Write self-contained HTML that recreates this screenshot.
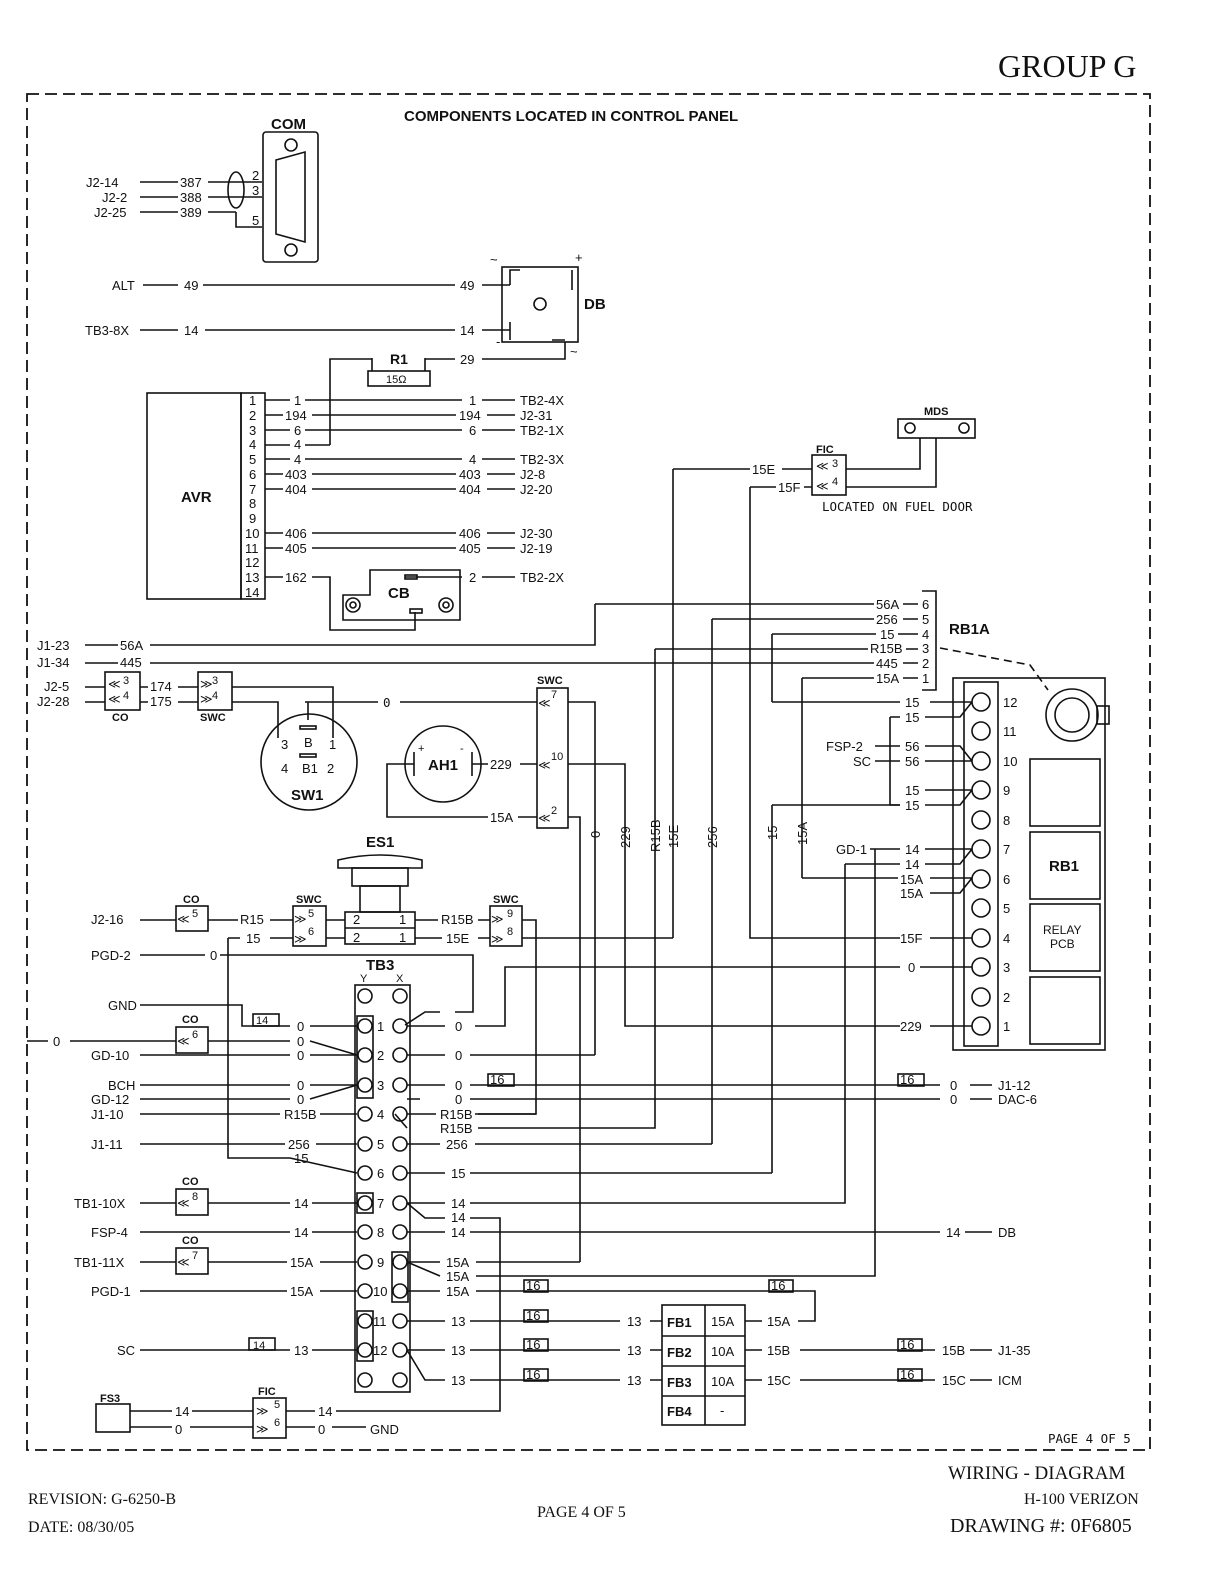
<!DOCTYPE html>
<html><head><meta charset="utf-8"><style>
html,body{margin:0;padding:0;background:#fff;overflow:hidden;width:1224px;height:1584px}
svg{display:block}
text{font-family:"Liberation Sans",sans-serif;font-size:13px;fill:#111}
.m{font-family:"DejaVu Sans Mono","Liberation Mono",monospace;font-size:12.5px}
.b{font-weight:bold}
.s{font-family:"Liberation Serif",serif}
line,path,rect,circle,ellipse,polyline{stroke:#111;stroke-width:1.6;fill:none}
</style></head><body>
<svg width="1224" height="1584" viewBox="0 0 1224 1584" xmlns="http://www.w3.org/2000/svg">
<text x="998" y="77" class="s" style="font-size:32px">GROUP G</text>
<rect x="27" y="94" width="1123" height="1356" style="stroke-dasharray:12,6;stroke-width:1.8"/>
<text x="404" y="121" class="b" style="font-size:15px">COMPONENTS LOCATED IN CONTROL PANEL</text>

<!-- COM -->
<text x="271" y="129" class="b" style="font-size:15px">COM</text>
<rect x="263" y="132" width="55" height="130" rx="3"/>
<path d="M276 160 L305 152 L305 242 L276 234 Z"/>
<circle cx="291" cy="145" r="6"/><circle cx="291" cy="250" r="6"/>
<g class="m"><text x="86" y="187">J2-14</text><text x="102" y="202">J2-2</text><text x="94" y="217">J2-25</text>
<text x="180" y="187">387</text><text x="180" y="202">388</text><text x="180" y="217">389</text>
<text x="252" y="180">2</text><text x="252" y="195">3</text><text x="252" y="225">5</text></g>
<line x1="140" y1="182" x2="178" y2="182"/><line x1="208" y1="182" x2="262" y2="182"/>
<line x1="140" y1="197" x2="178" y2="197"/><line x1="208" y1="197" x2="262" y2="197"/>
<line x1="140" y1="212" x2="178" y2="212"/><line x1="208" y1="212" x2="236" y2="212"/>
<path d="M236 212 V227 H262"/><ellipse cx="236" cy="190" rx="8" ry="18"/>

<!-- ALT/DB -->
<g class="m"><text x="112" y="290">ALT</text><text x="184" y="290">49</text><text x="460" y="290">49</text>
<text x="85" y="335">TB3-8X</text><text x="184" y="335">14</text><text x="460" y="335">14</text><text x="460" y="364">29</text></g>
<line x1="143" y1="285" x2="178" y2="285"/><line x1="203" y1="285" x2="455" y2="285"/><line x1="482" y1="285" x2="510" y2="285"/>
<line x1="140" y1="330" x2="178" y2="330"/><line x1="205" y1="330" x2="455" y2="330"/><line x1="482" y1="330" x2="510" y2="330"/>
<rect x="502" y="267" width="76" height="75"/><circle cx="540" cy="304" r="6"/>
<path d="M510 285 V270 H520 M572 270 V290 M510 322 V340 M552 340 H565"/>
<text x="584" y="309" class="b" style="font-size:15px">DB</text>
<text x="490" y="264">~</text><text x="575" y="262">+</text><text x="496" y="346">-</text><text x="570" y="356">~</text>
<!-- R1 -->
<text x="390" y="364" class="b" style="font-size:14px">R1</text>
<rect x="368" y="371" width="62" height="15"/><text x="386" y="383" style="font-size:11px">15Ω</text>
<path d="M372 371 V358 M425 371 V358 M330 445 V359 H372 M425 359 H455 M482 359 H565 V342"/>
<!-- AVR -->
<rect x="147" y="393" width="94" height="206"/><text x="181" y="502" class="b" style="font-size:15px">AVR</text>
<rect x="241" y="393" width="24" height="206"/>
<g class="m">
<text x="249" y="405">1</text><text x="249" y="420">2</text><text x="249" y="435">3</text><text x="249" y="449">4</text><text x="249" y="464">5</text><text x="249" y="479">6</text><text x="249" y="494">7</text><text x="249" y="508">8</text><text x="249" y="523">9</text><text x="245" y="538">10</text><text x="245" y="553">11</text><text x="245" y="567">12</text><text x="245" y="582">13</text><text x="245" y="597">14</text>
<text x="294" y="405">1</text><text x="285" y="420">194</text><text x="294" y="435">6</text><text x="294" y="449">4</text><text x="294" y="464">4</text><text x="285" y="479">403</text><text x="285" y="494">404</text><text x="285" y="538">406</text><text x="285" y="553">405</text><text x="285" y="582">162</text>
<text x="469" y="405">1</text><text x="459" y="420">194</text><text x="469" y="435">6</text><text x="469" y="464">4</text><text x="459" y="479">403</text><text x="459" y="494">404</text><text x="459" y="538">406</text><text x="459" y="553">405</text><text x="469" y="582">2</text>
<text x="520" y="405">TB2-4X</text><text x="520" y="420">J2-31</text><text x="520" y="435">TB2-1X</text><text x="520" y="464">TB2-3X</text><text x="520" y="479">J2-8</text><text x="520" y="494">J2-20</text><text x="520" y="538">J2-30</text><text x="520" y="553">J2-19</text><text x="520" y="582">TB2-2X</text>
</g>
<g>
<line x1="265" y1="400" x2="290" y2="400"/><line x1="305" y1="400" x2="462" y2="400"/><line x1="482" y1="400" x2="515" y2="400"/>
<line x1="265" y1="415" x2="283" y2="415"/><line x1="312" y1="415" x2="456" y2="415"/><line x1="487" y1="415" x2="515" y2="415"/>
<line x1="265" y1="430" x2="290" y2="430"/><line x1="305" y1="430" x2="462" y2="430"/><line x1="482" y1="430" x2="515" y2="430"/>
<line x1="265" y1="445" x2="290" y2="445"/><line x1="305" y1="445" x2="330" y2="445"/>
<line x1="265" y1="459" x2="290" y2="459"/><line x1="305" y1="459" x2="462" y2="459"/><line x1="482" y1="459" x2="515" y2="459"/>
<line x1="265" y1="474" x2="283" y2="474"/><line x1="312" y1="474" x2="456" y2="474"/><line x1="487" y1="474" x2="515" y2="474"/>
<line x1="265" y1="489" x2="283" y2="489"/><line x1="312" y1="489" x2="456" y2="489"/><line x1="487" y1="489" x2="515" y2="489"/>
<line x1="265" y1="533" x2="283" y2="533"/><line x1="312" y1="533" x2="456" y2="533"/><line x1="487" y1="533" x2="515" y2="533"/>
<line x1="265" y1="548" x2="283" y2="548"/><line x1="312" y1="548" x2="456" y2="548"/><line x1="487" y1="548" x2="515" y2="548"/>
<line x1="265" y1="577" x2="283" y2="577"/><path d="M312 577 H330 V630 H415 V612"/>
<path d="M405 577 H462 M482 577 H515"/>
</g>
<!-- CB -->
<path d="M343 595 H370 V570 H460 V620 H343 Z"/>
<circle cx="353" cy="605" r="7"/><circle cx="446" cy="605" r="7"/><circle cx="353" cy="605" r="3"/><circle cx="446" cy="605" r="3"/>
<rect x="405" y="575" width="12" height="4"/><rect x="410" y="609" width="12" height="4"/>
<text x="388" y="598" class="b" style="font-size:15px">CB</text>

<!-- FIC / MDS -->
<text x="816" y="453" class="b" style="font-size:11px">FIC</text>
<rect x="812" y="455" width="34" height="40"/>
<text x="832" y="467" style="font-size:11px">3</text><text x="832" y="485" style="font-size:11px">4</text>
<text x="816" y="470" style="font-size:12px">≪</text><text x="816" y="490" style="font-size:12px">≪</text>
<text x="924" y="415" class="b" style="font-size:11px">MDS</text>
<rect x="898" y="419" width="77" height="19"/><circle cx="910" cy="428" r="5"/><circle cx="964" cy="428" r="5"/>
<path d="M846 469 H920 V438 M846 487 H936 V438"/>
<text x="822" y="511" class="m">LOCATED ON FUEL DOOR</text>
<g class="m"><text x="752" y="474">15E</text><text x="778" y="492">15F</text></g>
<path d="M673 469 H750 M782 469 H812 M750 487 H776 M804 487 H812"/>
<path d="M673 469 V938 M750 487 V938 H900"/>

<!-- RB1A -->
<text x="949" y="634" class="b" style="font-size:15px">RB1A</text>
<path d="M922 591 H936 V690 H922"/>
<g class="m"><text x="876" y="609">56A</text><text x="922" y="609">6</text>
<text x="876" y="624">256</text><text x="922" y="624">5</text>
<text x="880" y="639">15</text><text x="922" y="639">4</text>
<text x="870" y="653">R15B</text><text x="922" y="653">3</text>
<text x="876" y="668">445</text><text x="922" y="668">2</text>
<text x="876" y="683">15A</text><text x="922" y="683">1</text>
<text x="37" y="650">J1-23</text><text x="120" y="650">56A</text>
<text x="37" y="667">J1-34</text><text x="120" y="667">445</text></g>
<path d="M595 604 H874 M595 604 V645 H150 M85 645 H118 M85 663 H118 M150 663 H874 M712 619 H874 M772 634 H876 M655 649 H868 M802 678 H874"/>
<path d="M903 604 H918 M903 619 H918 M898 634 H918 M906 649 H918 M903 663 H918 M903 678 H918"/>
<path d="M940 648 L1030 665 L1048 690" style="stroke-dasharray:8,5"/>

<!-- Right terminal block -->
<rect x="953" y="678" width="152" height="372"/>
<rect x="964" y="682" width="34" height="364"/>
<g>
<circle cx="981" cy="702" r="9"/><circle cx="981" cy="731" r="9"/><circle cx="981" cy="761" r="9"/><circle cx="981" cy="790" r="9"/><circle cx="981" cy="820" r="9"/><circle cx="981" cy="849" r="9"/><circle cx="981" cy="879" r="9"/><circle cx="981" cy="908" r="9"/><circle cx="981" cy="938" r="9"/><circle cx="981" cy="967" r="9"/><circle cx="981" cy="997" r="9"/><circle cx="981" cy="1026" r="9"/>
</g>
<g class="m"><text x="1003" y="707">12</text><text x="1003" y="736">11</text><text x="1003" y="766">10</text><text x="1003" y="795">9</text><text x="1003" y="825">8</text><text x="1003" y="854">7</text><text x="1003" y="884">6</text><text x="1003" y="913">5</text><text x="1003" y="943">4</text><text x="1003" y="972">3</text><text x="1003" y="1002">2</text><text x="1003" y="1031">1</text></g>
<rect x="1030" y="759" width="70" height="67"/><rect x="1030" y="832" width="70" height="67"/><rect x="1030" y="904" width="70" height="67"/><rect x="1030" y="977" width="70" height="67"/>
<text x="1049" y="871" class="b" style="font-size:15px">RB1</text>
<text x="1043" y="934" style="font-size:12px">RELAY</text><text x="1050" y="948" style="font-size:12px">PCB</text>
<circle cx="1072" cy="715" r="26"/><circle cx="1072" cy="715" r="17"/><rect x="1097" y="706" width="12" height="18"/>
<g class="m"><text x="905" y="707">15</text><text x="905" y="722">15</text><text x="826" y="751">FSP-2</text><text x="905" y="751">56</text><text x="853" y="766">SC</text><text x="905" y="766">56</text>
<text x="905" y="795">15</text><text x="905" y="810">15</text><text x="836" y="854">GD-1</text><text x="905" y="854">14</text><text x="905" y="869">14</text><text x="900" y="884">15A</text><text x="900" y="898">15A</text><text x="900" y="943">15F</text><text x="908" y="972">0</text><text x="900" y="1031">229</text></g>
<path d="M772 702 H900 M890 717 H900 M890 717 V790 M890 805 V790 M890 805 H900 M875 746 H900 M875 761 H900 M870 849 H900 M845 864 H900 M802 878 H898 M930 702 H972 M925 717 H960 L972 702 M925 746 H960 L972 761 M925 761 H972 M925 790 H972 M925 805 H960 L972 790 M925 849 H972 M925 864 H960 L972 849 M930 878 H972 M930 893 H960 L972 878 M930 938 H972 M920 967 H972 M930 1026 H972"/>
<path d="M772 634 V702 M802 678 V878"/>

<!-- CO/SWC left -->
<g class="m"><text x="44" y="691">J2-5</text><text x="37" y="706">J2-28</text><text x="150" y="691">174</text><text x="150" y="706">175</text></g>
<rect x="105" y="672" width="35" height="38"/><text x="123" y="684" style="font-size:11px">3</text><text x="123" y="699" style="font-size:11px">4</text>
<text x="108" y="688" style="font-size:12px">≪</text><text x="108" y="703" style="font-size:12px">≪</text>
<text x="112" y="721" class="b" style="font-size:11px">CO</text>
<rect x="198" y="672" width="34" height="38"/><text x="212" y="684" style="font-size:11px">3</text><text x="212" y="699" style="font-size:11px">4</text>
<text x="200" y="688" style="font-size:12px">≫</text><text x="200" y="703" style="font-size:12px">≫</text>
<text x="200" y="721" class="b" style="font-size:11px">SWC</text>
<path d="M85 687 H105 M85 702 H105 M140 687 H148 M140 702 H148 M178 687 H198 M178 702 H198 M232 687 H333 V738 M232 702 H278 V738"/>
<path d="M305 702 H378 M400 702 H537 M308 702 V720"/>
<text x="383" y="707" class="m">0</text>
<circle cx="309" cy="762" r="48"/><text x="291" y="800" class="b" style="font-size:15px">SW1</text>
<g class="m" style="font-size:11px"><text x="281" y="749">3</text><text x="304" y="747">B</text><text x="329" y="749">1</text><text x="281" y="773">4</text><text x="302" y="773">B1</text><text x="327" y="773">2</text></g>
<rect x="300" y="726" width="16" height="3"/><rect x="300" y="754" width="16" height="3"/>
<!-- AH1 -->
<circle cx="443" cy="764" r="38"/><text x="428" y="770" class="b" style="font-size:15px">AH1</text>
<text x="418" y="752" style="font-size:11px">+</text><text x="460" y="752" style="font-size:11px">-</text>
<path d="M414 752 V776 M472 752 V776 M414 764 H387 V817 H488 M472 764 H488 M520 764 H537 M518 817 H537"/>
<g class="m"><text x="490" y="769">229</text><text x="490" y="822">15A</text></g>
<!-- SWC vertical -->
<text x="537" y="684" class="b" style="font-size:11px">SWC</text>
<rect x="537" y="688" width="31" height="140"/>
<text x="538" y="707" style="font-size:12px">≪</text><text x="538" y="769" style="font-size:12px">≪</text><text x="538" y="822" style="font-size:12px">≪</text>
<text x="551" y="698" style="font-size:11px">7</text><text x="551" y="760" style="font-size:11px">10</text><text x="551" y="814" style="font-size:11px">2</text>
<path d="M568 702 H595 V1055 M568 764 H625 V1026 H900 M568 817 H580 V1262"/>
<path d="M655 649 V1114 M712 619 V1144 M772 805 V1173 M772 805 H900"/>
<g class="m"><text transform="translate(600,838) rotate(-90)">0</text><text transform="translate(630,848) rotate(-90)">229</text><text transform="translate(660,852) rotate(-90)">R15B</text><text transform="translate(678,848) rotate(-90)">15E</text><text transform="translate(717,848) rotate(-90)">256</text><text transform="translate(777,840) rotate(-90)">15</text><text transform="translate(807,845) rotate(-90)">15A</text></g>

<!-- ES1 -->
<text x="366" y="847" class="b" style="font-size:15px">ES1</text>
<path d="M338 860 Q380 850 422 860 L422 868 L338 868 Z"/>
<rect x="352" y="868" width="56" height="18"/><rect x="360" y="886" width="40" height="26"/>
<rect x="345" y="912" width="70" height="32"/><line x1="345" y1="928" x2="415" y2="928"/>
<g class="m"><text x="353" y="924">2</text><text x="399" y="924">1</text><text x="353" y="942">2</text><text x="399" y="942">1</text>
<text x="240" y="924">R15</text><text x="246" y="943">15</text><text x="441" y="924">R15B</text><text x="446" y="943">15E</text>
<text x="91" y="924">J2-16</text><text x="91" y="960">PGD-2</text><text x="210" y="960">0</text></g>
<rect x="176" y="906" width="32" height="25"/><text x="183" y="903" class="b" style="font-size:11px">CO</text><text x="177" y="923" style="font-size:12px">≪</text><text x="192" y="917" style="font-size:11px">5</text>
<rect x="293" y="906" width="33" height="40"/><text x="296" y="903" class="b" style="font-size:11px">SWC</text>
<text x="294" y="923" style="font-size:12px">≫</text><text x="294" y="943" style="font-size:12px">≫</text><text x="308" y="917" style="font-size:11px">5</text><text x="308" y="935" style="font-size:11px">6</text>
<rect x="490" y="906" width="32" height="40"/><text x="493" y="903" class="b" style="font-size:11px">SWC</text>
<text x="491" y="923" style="font-size:12px">≫</text><text x="491" y="943" style="font-size:12px">≫</text><text x="507" y="917" style="font-size:11px">9</text><text x="507" y="935" style="font-size:11px">8</text>
<path d="M140 920 H176 M208 920 H238 M270 920 H293 M326 920 H345 M415 920 H438 M478 920 H490 M522 920 H536 V1114 H475"/>
<path d="M270 938 H293 M326 938 H345 M415 938 H442 M478 938 H490 M522 938 H673"/>
<path d="M228 938 H240 M228 938 V1158 H290 M140 955 H205 M220 955 H473 V1012 H455 M440 1012 H425 L405 1025"/>

<!-- TB3 -->
<text x="366" y="970" class="b" style="font-size:15px">TB3</text>
<text x="360" y="982" style="font-size:11px">Y</text><text x="396" y="982" style="font-size:11px">X</text>
<rect x="355" y="985" width="55" height="407"/>
<g>
<circle cx="365" cy="996" r="7"/><circle cx="400" cy="996" r="7"/><circle cx="365" cy="1380" r="7"/><circle cx="400" cy="1380" r="7"/>
<circle cx="365" cy="1026" r="7"/><circle cx="365" cy="1055" r="7"/><circle cx="365" cy="1085" r="7"/><circle cx="365" cy="1114" r="7"/><circle cx="365" cy="1144" r="7"/><circle cx="365" cy="1173" r="7"/><circle cx="365" cy="1203" r="7"/><circle cx="365" cy="1232" r="7"/><circle cx="365" cy="1262" r="7"/><circle cx="365" cy="1291" r="7"/><circle cx="365" cy="1321" r="7"/><circle cx="365" cy="1350" r="7"/>
<circle cx="400" cy="1026" r="7"/><circle cx="400" cy="1055" r="7"/><circle cx="400" cy="1085" r="7"/><circle cx="400" cy="1114" r="7"/><circle cx="400" cy="1144" r="7"/><circle cx="400" cy="1173" r="7"/><circle cx="400" cy="1203" r="7"/><circle cx="400" cy="1232" r="7"/><circle cx="400" cy="1262" r="7"/><circle cx="400" cy="1291" r="7"/><circle cx="400" cy="1321" r="7"/><circle cx="400" cy="1350" r="7"/>
</g>
<rect x="357" y="1016" width="16" height="82"/><rect x="357" y="1193" width="16" height="20"/><rect x="392" y="1252" width="16" height="50"/><rect x="357" y="1311" width="16" height="50"/>
<g class="m"><text x="377" y="1031">1</text><text x="377" y="1060">2</text><text x="377" y="1090">3</text><text x="377" y="1119">4</text><text x="377" y="1149">5</text><text x="377" y="1178">6</text><text x="377" y="1208">7</text><text x="377" y="1237">8</text><text x="377" y="1267">9</text><text x="373" y="1296">10</text><text x="373" y="1326">11</text><text x="373" y="1355">12</text></g>
<g class="m">
<text x="108" y="1010">GND</text><text x="297" y="1031">0</text><text x="53" y="1046">0</text><text x="297" y="1046">0</text>
<text x="91" y="1060">GD-10</text><text x="297" y="1060">0</text>
<text x="108" y="1090">BCH</text><text x="297" y="1090">0</text><text x="91" y="1104">GD-12</text><text x="297" y="1104">0</text>
<text x="91" y="1119">J1-10</text><text x="284" y="1119">R15B</text>
<text x="91" y="1149">J1-11</text><text x="288" y="1149">256</text><text x="294" y="1163">15</text>
<text x="74" y="1208">TB1-10X</text><text x="294" y="1208">14</text>
<text x="91" y="1237">FSP-4</text><text x="294" y="1237">14</text>
<text x="74" y="1267">TB1-11X</text><text x="290" y="1267">15A</text>
<text x="91" y="1296">PGD-1</text><text x="290" y="1296">15A</text>
<text x="117" y="1355">SC</text><text x="294" y="1355">13</text>
<text x="256" y="1024" style="font-size:11px">14</text><text x="253" y="1349" style="font-size:11px">14</text>
</g>
<rect x="253" y="1014" width="26" height="12"/><rect x="249" y="1338" width="26" height="12"/>
<path d="M140 1005 H242 V1026 H290 M310 1026 H357 M27 1041 H48 M70 1041 H176 M208 1041 H290 M310 1041 L357 1055 M140 1055 H290 M310 1055 H357 M140 1085 H290 M310 1085 H357 M140 1099 H290 M310 1099 L357 1085 M140 1114 H280 M320 1114 H357 M140 1144 H285 M316 1144 H357 M290 1158 L357 1173 M140 1203 H176 M208 1203 H290 M312 1203 H357 M140 1232 H290 M312 1232 H357 M140 1262 H176 M208 1262 H287 M320 1262 H357 M140 1291 H287 M320 1291 H357 M140 1350 H290 M312 1350 H357"/>
<rect x="176" y="1027" width="32" height="26"/><text x="182" y="1023" class="b" style="font-size:11px">CO</text><text x="177" y="1045" style="font-size:12px">≪</text><text x="192" y="1038" style="font-size:11px">6</text>
<rect x="176" y="1189" width="32" height="26"/><text x="182" y="1185" class="b" style="font-size:11px">CO</text><text x="177" y="1207" style="font-size:12px">≪</text><text x="192" y="1200" style="font-size:11px">8</text>
<rect x="176" y="1248" width="32" height="26"/><text x="182" y="1244" class="b" style="font-size:11px">CO</text><text x="177" y="1266" style="font-size:12px">≪</text><text x="192" y="1259" style="font-size:11px">7</text>
<g class="m">
<text x="455" y="1031">0</text><text x="455" y="1060">0</text><text x="455" y="1090">0</text><text x="455" y="1104">0</text>
<text x="440" y="1119">R15B</text><text x="440" y="1133">R15B</text><text x="446" y="1149">256</text><text x="451" y="1178">15</text>
<text x="451" y="1208">14</text><text x="451" y="1222">14</text><text x="451" y="1237">14</text>
<text x="446" y="1267">15A</text><text x="446" y="1281">15A</text><text x="446" y="1296">15A</text>
<text x="451" y="1326">13</text><text x="451" y="1355">13</text><text x="451" y="1385">13</text>
<text x="950" y="1090">0</text><text x="998" y="1090">J1-12</text><text x="950" y="1104">0</text><text x="998" y="1104">DAC-6</text>
<text x="946" y="1237">14</text><text x="998" y="1237">DB</text>
<text x="627" y="1326">13</text><text x="627" y="1355">13</text><text x="627" y="1385">13</text>
<text x="767" y="1326">15A</text><text x="767" y="1355">15B</text><text x="767" y="1385">15C</text>
<text x="942" y="1355">15B</text><text x="998" y="1355">J1-35</text><text x="942" y="1385">15C</text><text x="998" y="1385">ICM</text>
</g>
<path d="M407 1026 H445 M475 1026 H505 V967 H900 M407 1055 H445 M470 1055 H595 M407 1085 H445 M470 1099 H940 M470 1085 H940 M407 1099 L420 1099 M407 1114 H436 M478 1114 H536 M407 1128 L395 1114 M478 1128 H655 V1114 M407 1144 H440 M475 1144 H712 M407 1173 H445 M470 1173 H772 M407 1203 L425 1218 H445 M470 1218 H500 V1411 H336 M407 1203 H445 M470 1203 H845 V864 M407 1232 H445 M470 1232 H940 M407 1262 H440 M476 1262 H580 M407 1262 L440 1276 M476 1276 H875 V849 M407 1291 H440 M476 1291 H815 V1321 H798 M407 1321 H445 M470 1321 H620 M407 1350 H445 M470 1350 H620 M407 1350 L425 1380 H445 M470 1380 H620 M650 1321 H662 M650 1350 H662 M650 1380 H662 M745 1321 H762 M745 1350 H762 M745 1380 H762 M800 1350 H935 M800 1380 H935 M970 1350 H992 M970 1380 H992 M970 1085 H992 M970 1099 H992 M965 1232 H992"/>
<g style="font-size:11px" class="m"><text x="490" y="1084">16</text><text x="900" y="1084">16</text><text x="526" y="1290">16</text><text x="771" y="1290">16</text><text x="526" y="1320">16</text><text x="526" y="1349">16</text><text x="526" y="1379">16</text><text x="900" y="1349">16</text><text x="900" y="1379">16</text></g>
<g><rect x="488" y="1074" width="26" height="12"/><rect x="898" y="1074" width="26" height="12"/><rect x="524" y="1280" width="24" height="12"/><rect x="769" y="1280" width="24" height="12"/><rect x="524" y="1310" width="24" height="12"/><rect x="524" y="1339" width="24" height="12"/><rect x="524" y="1369" width="24" height="12"/><rect x="898" y="1339" width="24" height="12"/><rect x="898" y="1369" width="24" height="12"/></g>
<!-- FB -->
<rect x="662" y="1305" width="83" height="120"/><line x1="662" y1="1336" x2="745" y2="1336"/><line x1="662" y1="1366" x2="745" y2="1366"/><line x1="662" y1="1396" x2="745" y2="1396"/><line x1="705" y1="1305" x2="705" y2="1425"/>
<g style="font-size:14px" class="b"><text x="667" y="1327">FB1</text><text x="667" y="1357">FB2</text><text x="667" y="1387">FB3</text><text x="667" y="1416">FB4</text></g>
<g class="m"><text x="711" y="1326">15A</text><text x="711" y="1356">10A</text><text x="711" y="1386">10A</text><text x="720" y="1415">-</text></g>
<!-- FS3 / FIC -->
<text x="100" y="1402" class="b" style="font-size:11px">FS3</text><rect x="96" y="1404" width="34" height="28"/>
<text x="258" y="1395" class="b" style="font-size:11px">FIC</text><rect x="253" y="1398" width="33" height="40"/>
<text x="256" y="1415" style="font-size:12px">≫</text><text x="256" y="1433" style="font-size:12px">≫</text><text x="274" y="1408" style="font-size:11px">5</text><text x="274" y="1426" style="font-size:11px">6</text>
<g class="m"><text x="175" y="1416">14</text><text x="175" y="1434">0</text><text x="318" y="1416">14</text><text x="318" y="1434">0</text><text x="370" y="1434">GND</text></g>
<path d="M130 1411 H172 M192 1411 H253 M130 1427 H172 M190 1427 H253 M286 1411 H315 M286 1427 H315 M332 1427 H366"/>
<text x="1048" y="1443" class="m">PAGE 4 OF 5</text>

<!-- footer -->
<text x="948" y="1479" class="s" style="font-size:19px">WIRING - DIAGRAM</text>
<text x="1024" y="1504" class="s" style="font-size:16px">H-100 VERIZON</text>
<text x="950" y="1532" class="s" style="font-size:20px">DRAWING #: 0F6805</text>
<text x="28" y="1504" class="s" style="font-size:16px">REVISION: G-6250-B</text>
<text x="28" y="1532" class="s" style="font-size:16px">DATE: 08/30/05</text>
<text x="537" y="1517" class="s" style="font-size:16px">PAGE 4 OF 5</text>
</svg>
</body></html>
